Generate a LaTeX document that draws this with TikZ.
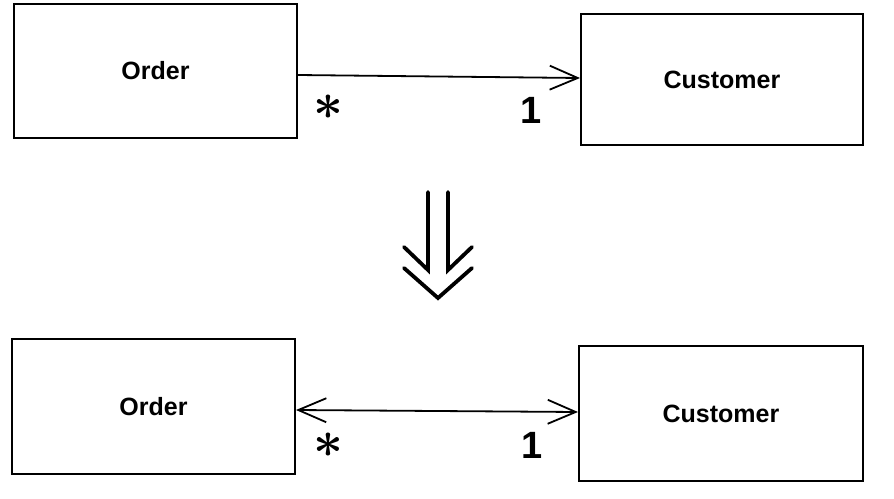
\documentclass[tikz,border=0pt]{standalone}
\usepackage{fontspec}
\setmainfont{Liberation Sans}
\usetikzlibrary{arrows.meta}
\begin{document}
\begin{tikzpicture}[x=1pt,y=-1pt,
  classbox/.style={draw,line width=2pt,rectangle,inner sep=0pt,
    font=\fontsize{25}{25}\selectfont\bfseries},
  assoc/.style={line width=1.8pt,
    arrows={-Straight Barb[length=28pt,width=24pt,line width=1.8pt]}},
  biassoc/.style={line width=1.8pt,
    arrows={Straight Barb[length=28pt,width=24pt,line width=1.8pt]-Straight Barb[length=28pt,width=24pt,line width=1.8pt]}},
  mult/.style={inner sep=0pt,font=\fontsize{38}{38}\selectfont\bfseries},
  star/.style={inner sep=0pt,scale=5.2,font=\boldmath},
  refine/.style={line width=3.8pt,line cap=round,line join=miter}]
\useasboundingbox (0,0) rectangle (894,498);

% before: one-way association
\node[classbox,minimum width=283pt,minimum height=134pt] (o1) at (155.5,71) {Order};
\node[classbox,minimum width=282pt,minimum height=131pt] (c1) at (722,79.5) {Customer};
\draw[assoc] ([yshift=-4pt]o1.east) -- ([yshift=1.5pt]c1.west);
\node[star] (s1) at (328,107) {$\ast$};
\node[mult] (m1) at (531,110) {1};

% refinement arrow
\coordinate (a1) at (428,192);
\coordinate (a2) at (448,192);
\coordinate (b1) at (428,270);
\coordinate (b2) at (448,270);
\coordinate (l1) at (404,247);
\coordinate (r1) at (472,247);
\coordinate (l2) at (404,268);
\coordinate (r2) at (472,268);
\coordinate (tip) at (438,298);
\draw[refine] (a1) -- (b1) -- (l1);
\draw[refine] (a2) -- (b2) -- (r1);
\draw[refine] (l2) -- (tip) -- (r2);

% after: two-way association
\node[classbox,minimum width=283pt,minimum height=135pt] (o2) at (153.5,406.5) {Order};
\node[classbox,minimum width=284pt,minimum height=135pt] (c2) at (721,413.5) {Customer};
\draw[biassoc] ([yshift=-3.5pt]o2.east) -- ([yshift=1.5pt]c2.west);
\node[star] (s2) at (328,445) {$\ast$};
\node[mult] (m2) at (532,445) {1};
\end{tikzpicture}
\end{document}
